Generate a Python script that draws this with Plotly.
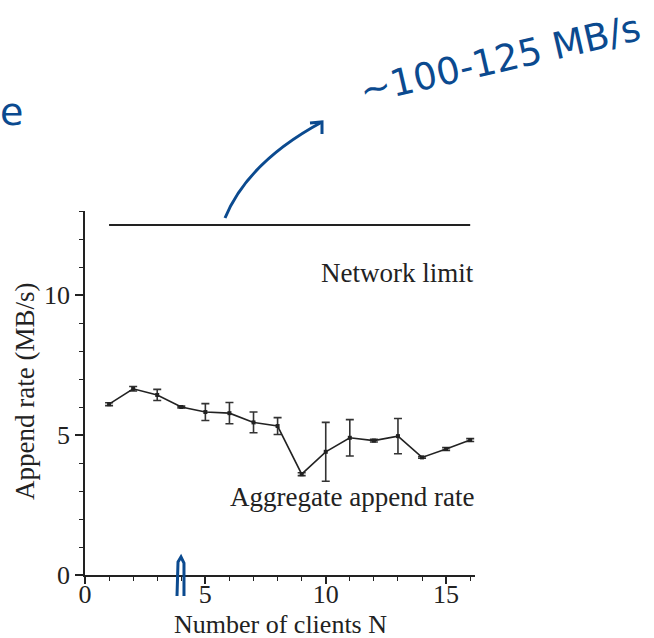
import plotly.graph_objects as go

clients = list(range(1, 17))
append_rate = [6.1, 6.65, 6.43, 6.0, 5.82, 5.78, 5.45, 5.32, 3.6, 4.4, 4.9, 4.8, 4.96, 4.2, 4.5, 4.82]
append_err = [0.05, 0.08, 0.2, 0.03, 0.3, 0.38, 0.37, 0.3, 0.05, 1.05, 0.65, 0.05, 0.63, 0.03, 0.05, 0.05]
limit_x = [1, 16]
limit_y = [12.5, 12.5]
x_ticks = [0, 5, 10, 15]
y_ticks = [0, 5, 10]

serif = "Liberation Serif, Times New Roman, serif"
ink = "#0b4a8f"
fig = go.Figure()
fig.add_trace(go.Scatter(x=limit_x, y=limit_y, mode="lines",
                         line=dict(color="#222", width=2), hoverinfo="skip"))
fig.add_trace(go.Scatter(x=clients, y=append_rate, mode="lines+markers",
                         line=dict(color="#222", width=1.6),
                         marker=dict(symbol="square", size=4, color="#222"),
                         error_y=dict(type="data", array=append_err, visible=True,
                                      color="#333", thickness=1.6, width=4)))

# positions of notes given in figure pixels, converted to paper fractions
L, R, T, B = 85, 179, 211, 63
W, H = 654, 638
def px(xp, yp):
    return (xp - L) / (W - L - R), (H - B - yp) / (H - T - B)

lx = px(476, 0)[0]
fig.add_annotation(xref="paper", x=lx, y=10.8, text="Network limit", showarrow=False,
                   xanchor="right", font=dict(family=serif, size=27, color="#222"))
fig.add_annotation(xref="paper", x=lx, y=2.8, text="Aggregate append rate", showarrow=False,
                   xanchor="right", font=dict(family=serif, size=27, color="#222"))

# axis titles
axx, axy = px(280, 624)
fig.add_annotation(xref="paper", yref="paper", x=axx, y=axy, xanchor="center", yanchor="middle",
                   text="Number of clients N", showarrow=False,
                   font=dict(family=serif, size=26, color="#222"))
ayx, ayy = px(25, 392)
fig.add_annotation(xref="paper", yref="paper", x=ayx, y=ayy, xanchor="center", yanchor="middle",
                   text="Append rate (MB/s)", showarrow=False, textangle=-90,
                   font=dict(family=serif, size=27, color="#222"))

# handwritten notes
tx, ty = px(500, 60)
fig.add_annotation(xref="paper", yref="paper", x=tx, y=ty, xanchor="center", yanchor="middle",
                   text="~100-125 MB/s", showarrow=False, textangle=-13,
                   font=dict(family="DejaVu Sans", size=37, color=ink))
ex, ey = px(11, 112)
fig.add_annotation(xref="paper", yref="paper", x=ex, y=ey, xanchor="center", yanchor="middle",
                   text="e", showarrow=False,
                   font=dict(family="DejaVu Sans", size=38, color=ink))

def path(points):
    s = ""
    for i, (a, b) in enumerate(points):
        xa, ya = px(a, b)
        s += ("M " if i == 0 else "L ") + f"{xa:.4f},{ya:.4f} "
    return s

a0 = px(225, 218); ac = px(248, 162); a1 = px(322, 122)
curve = f"M {a0[0]:.4f},{a0[1]:.4f} Q {ac[0]:.4f},{ac[1]:.4f} {a1[0]:.4f},{a1[1]:.4f}"
fig.add_shape(type="path", xref="paper", yref="paper", path=curve,
              line=dict(color=ink, width=3))
fig.add_shape(type="path", xref="paper", yref="paper",
              path=path([(310, 123), (322, 122), (322, 134)]),
              line=dict(color=ink, width=3))
fig.add_shape(type="path", xref="paper", yref="paper",
              path=path([(177, 596), (178, 562), (181, 557), (184, 563), (184, 596)]),
              line=dict(color=ink, width=3))

fig.update_layout(
    width=W, height=H,
    margin=dict(l=L, r=R, t=T, b=B, autoexpand=False),
    paper_bgcolor="white", plot_bgcolor="white",
    showlegend=False,
    font=dict(family=serif, size=26, color="#222"),
)
fig.update_xaxes(range=[0, 16.2], tickvals=x_ticks, showgrid=False, zeroline=False,
                 showline=True, linecolor="#222", linewidth=1.5, automargin=False,
                 ticks="outside", ticklen=7, tickwidth=1.5, tickcolor="#222",
                 ticklabelstandoff=-12,
                 minor=dict(dtick=1, ticks="outside", ticklen=4, tickcolor="#222", tickwidth=1.2),
                 tickfont=dict(family=serif, size=26))
fig.update_yaxes(range=[0, 13], tickvals=y_ticks, showgrid=False, zeroline=False,
                 showline=True, linecolor="#222", linewidth=1.5, automargin=False,
                 ticks="outside", ticklen=8, tickwidth=1.5, tickcolor="#222",
                 minor=dict(dtick=1, ticks="outside", ticklen=4, tickcolor="#222", tickwidth=1.2),
                 tickfont=dict(family=serif, size=26))

fig.write_html("out.html", config={"displayModeBar": False},
               post_script="document.body.style.margin='0';")
